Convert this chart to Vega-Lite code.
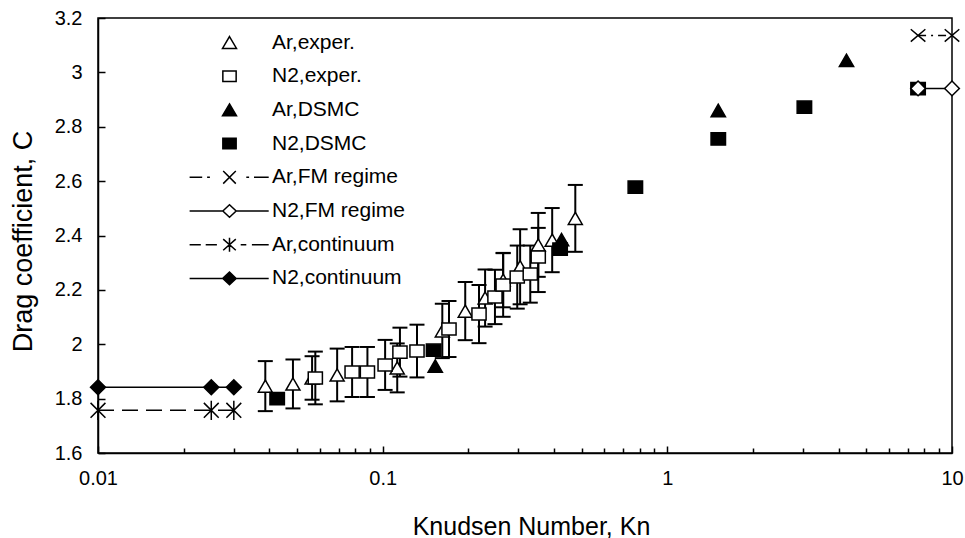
{
  "$schema": "https://vega.github.io/schema/vega-lite/v6.json",
  "width": 854,
  "height": 435,
  "autosize": "none",
  "padding": {"left": 98, "top": 18, "right": 13, "bottom": 85},
  "background": "white",
  "config": {
    "view": {"stroke": "black", "strokeWidth": 1.5},
    "font": "Liberation Sans"
  },
  "datasets": {
    "pts": [
      {"s": "Ar,exper.", "kn": 0.0387, "cd": 1.846, "lo": 1.754, "hi": 1.938},
      {"s": "Ar,exper.", "kn": 0.0484, "cd": 1.854, "lo": 1.764, "hi": 1.944},
      {"s": "Ar,exper.", "kn": 0.0565, "cd": 1.876, "lo": 1.796, "hi": 1.956},
      {"s": "Ar,exper.", "kn": 0.0692, "cd": 1.887, "lo": 1.79, "hi": 1.984},
      {"s": "Ar,exper.", "kn": 0.1125, "cd": 1.913, "lo": 1.823, "hi": 2.003},
      {"s": "Ar,exper.", "kn": 0.162, "cd": 2.049, "lo": 1.949, "hi": 2.149},
      {"s": "Ar,exper.", "kn": 0.195, "cd": 2.122, "lo": 2.015, "hi": 2.229},
      {"s": "Ar,exper.", "kn": 0.229, "cd": 2.17, "lo": 2.065, "hi": 2.275},
      {"s": "Ar,exper.", "kn": 0.265, "cd": 2.236, "lo": 2.136, "hi": 2.336},
      {"s": "Ar,exper.", "kn": 0.304, "cd": 2.285, "lo": 2.147, "hi": 2.423},
      {"s": "Ar,exper.", "kn": 0.352, "cd": 2.365, "lo": 2.248, "hi": 2.483},
      {"s": "Ar,exper.", "kn": 0.394, "cd": 2.383, "lo": 2.265, "hi": 2.501},
      {"s": "Ar,exper.", "kn": 0.475, "cd": 2.463, "lo": 2.34, "hi": 2.586},
      {"s": "N2,exper.", "kn": 0.058, "cd": 1.876, "lo": 1.779, "hi": 1.973},
      {"s": "N2,exper.", "kn": 0.0781, "cd": 1.898, "lo": 1.806, "hi": 1.99},
      {"s": "N2,exper.", "kn": 0.0884, "cd": 1.898, "lo": 1.806, "hi": 1.99},
      {"s": "N2,exper.", "kn": 0.102, "cd": 1.924, "lo": 1.832, "hi": 2.016},
      {"s": "N2,exper.", "kn": 0.115, "cd": 1.971, "lo": 1.881, "hi": 2.061},
      {"s": "N2,exper.", "kn": 0.132, "cd": 1.975, "lo": 1.878, "hi": 2.072},
      {"s": "N2,exper.", "kn": 0.171, "cd": 2.056, "lo": 1.953, "hi": 2.159},
      {"s": "N2,exper.", "kn": 0.218, "cd": 2.111, "lo": 2.004, "hi": 2.218},
      {"s": "N2,exper.", "kn": 0.248, "cd": 2.174, "lo": 2.074, "hi": 2.274},
      {"s": "N2,exper.", "kn": 0.265, "cd": 2.218, "lo": 2.101, "hi": 2.335},
      {"s": "N2,exper.", "kn": 0.297, "cd": 2.247, "lo": 2.131, "hi": 2.363},
      {"s": "N2,exper.", "kn": 0.33, "cd": 2.258, "lo": 2.153, "hi": 2.363},
      {"s": "N2,exper.", "kn": 0.352, "cd": 2.321, "lo": 2.192, "hi": 2.428},
      {"s": "Ar,DSMC", "kn": 0.153, "cd": 1.92},
      {"s": "Ar,DSMC", "kn": 0.425, "cd": 2.385},
      {"s": "Ar,DSMC", "kn": 1.51, "cd": 2.86},
      {"s": "Ar,DSMC", "kn": 4.26, "cd": 3.044},
      {"s": "N2,DSMC", "kn": 0.0426, "cd": 1.8},
      {"s": "N2,DSMC", "kn": 0.151, "cd": 1.978},
      {"s": "N2,DSMC", "kn": 0.42, "cd": 2.35},
      {"s": "N2,DSMC", "kn": 0.772, "cd": 2.578},
      {"s": "N2,DSMC", "kn": 1.51, "cd": 2.755},
      {"s": "N2,DSMC", "kn": 3.03, "cd": 2.872},
      {"s": "N2,DSMC", "kn": 7.6, "cd": 2.94},
      {"s": "Ar,FM regime", "kn": 7.6, "cd": 3.136},
      {"s": "Ar,FM regime", "kn": 10, "cd": 3.136},
      {"s": "N2,FM regime", "kn": 7.6, "cd": 2.941},
      {"s": "N2,FM regime", "kn": 10, "cd": 2.941},
      {"s": "Ar,continuum", "kn": 0.01, "cd": 1.757},
      {"s": "Ar,continuum", "kn": 0.025, "cd": 1.757},
      {"s": "Ar,continuum", "kn": 0.03, "cd": 1.757},
      {"s": "N2,continuum", "kn": 0.01, "cd": 1.842},
      {"s": "N2,continuum", "kn": 0.025, "cd": 1.842},
      {"s": "N2,continuum", "kn": 0.03, "cd": 1.842}
    ]
  },
  "layer": [
    {
      "data": {"name": "pts"},
      "transform": [{"filter": "indexof(['Ar,FM regime','N2,FM regime','Ar,continuum','N2,continuum'], datum.s) >= 0"}],
      "mark": {"type": "line", "color": "black", "strokeWidth": 1.5},
      "encoding": {
        "x": {
          "field": "kn", "type": "quantitative",
          "scale": {"type": "log", "domain": [0.01, 10], "nice": false},
          "axis": {
            "title": "Knudsen Number, Kn",
            "titleFontSize": 25, "titleFontWeight": "normal", "titleColor": "black",
            "titleX": 433, "titleY": 73, "titleBaseline": "middle", "titleAlign": "center",
            "values": [0.01,0.02,0.03,0.04,0.05,0.06,0.07,0.08,0.09,0.1,0.2,0.3,0.4,0.5,0.6,0.7,0.8,0.9,1,2,3,4,5,6,7,8,9,10],
            "labelExpr": "abs(log(datum.value)/LN10 - round(log(datum.value)/LN10)) < 0.001 ? format(datum.value, '~g') : ''",
            "labelFontSize": 20, "labelColor": "black", "labelOverlap": false, "labelFlush": false, "labelPadding": 22,
            "tickSize": {"condition": {"test": "abs(log(datum.value)/LN10 - round(log(datum.value)/LN10)) < 0.001", "value": -7}, "value": -5},
            "tickColor": "black", "tickWidth": 1.5, "domainColor": "black", "domainWidth": 1.5, "grid": false
          }
        },
        "y": {
          "field": "cd", "type": "quantitative",
          "scale": {"domain": [1.6, 3.2], "nice": false, "zero": false},
          "axis": {
            "title": "Drag coefficient, C",
            "titleFontSize": 27, "titleFontWeight": "normal", "titleColor": "black",
            "titleX": -75, "titleY": 223, "titleAngle": -90, "titleBaseline": "middle", "titleAlign": "center",
            "values": [1.6,1.7,1.8,1.9,2,2.1,2.2,2.3,2.4,2.5,2.6,2.7,2.8,2.9,3,3.1,3.2],
            "labelExpr": "abs(datum.value*5 - round(datum.value*5)) < 0.001 ? format(datum.value, '~g') : ''",
            "labelFontSize": 20, "labelColor": "black", "labelOverlap": false, "labelFlush": false, "labelPadding": 23,
            "tickSize": {"condition": {"test": "abs(datum.value*5 - round(datum.value*5)) < 0.001", "value": -7}, "value": -4},
            "tickColor": "black", "tickWidth": 1.5, "domainColor": "black", "domainWidth": 1.5, "grid": false
          }
        },
        "detail": {"field": "s"},
        "strokeDash": {
          "field": "s", "type": "nominal", "legend": null,
          "scale": {"domain": ["Ar,FM regime", "N2,FM regime", "Ar,continuum", "N2,continuum"], "range": [[8, 5, 2, 5], [1, 0], [16, 8], [1, 0]]}
        }
      }
    },
    {
      "data": {"name": "pts"},
      "transform": [{"filter": "isValid(datum.lo)"}],
      "mark": {"type": "rule", "color": "black", "strokeWidth": 2},
      "encoding": {
        "x": {"field": "kn", "type": "quantitative"},
        "y": {"field": "lo", "type": "quantitative"},
        "y2": {"field": "hi"}
      }
    },
    {
      "data": {"name": "pts"},
      "transform": [{"filter": "isValid(datum.lo)"}],
      "mark": {"type": "tick", "orient": "horizontal", "color": "black", "size": 15, "thickness": 2, "opacity": 1},
      "encoding": {
        "x": {"field": "kn", "type": "quantitative"},
        "y": {"field": "lo", "type": "quantitative"}
      }
    },
    {
      "data": {"name": "pts"},
      "transform": [{"filter": "isValid(datum.lo)"}],
      "mark": {"type": "tick", "orient": "horizontal", "color": "black", "size": 15, "thickness": 2, "opacity": 1},
      "encoding": {
        "x": {"field": "kn", "type": "quantitative"},
        "y": {"field": "hi", "type": "quantitative"}
      }
    },
    {
      "data": {"name": "pts"},
      "mark": {"type": "point", "stroke": "black", "strokeWidth": 1.5, "opacity": 1},
      "encoding": {
        "x": {"field": "kn", "type": "quantitative"},
        "y": {"field": "cd", "type": "quantitative"},
        "shape": {
          "field": "s", "type": "nominal", "legend": null,
          "scale": {
            "domain": ["Ar,exper.", "N2,exper.", "Ar,DSMC", "N2,DSMC", "Ar,FM regime", "N2,FM regime", "Ar,continuum", "N2,continuum"],
            "range": ["triangle-up", "M-1,-0.85H1V0.85H-1Z", "triangle-up", "M-1,-0.85H1V0.85H-1Z", "M-1,-0.85L1,0.85M-1,0.85L1,-0.85", "diamond", "M-1,-1L1,1M-1,1L1,-1M0,-1.3V1.3", "diamond"]
          }
        },
        "fill": {
          "field": "s", "type": "nominal", "legend": null,
          "scale": {
            "domain": ["Ar,exper.", "N2,exper.", "Ar,DSMC", "N2,DSMC", "Ar,FM regime", "N2,FM regime", "Ar,continuum", "N2,continuum"],
            "range": ["white", "white", "black", "black", "white", "white", "white", "black"]
          }
        },
        "size": {
          "field": "s", "type": "nominal", "legend": null,
          "scale": {
            "domain": ["Ar,exper.", "N2,exper.", "Ar,DSMC", "N2,DSMC", "Ar,FM regime", "N2,FM regime", "Ar,continuum", "N2,continuum"],
            "range": [196, 225, 300, 289, 324, 289, 225, 256]
          }
        }
      }
    },
    {
      "data": {"values": []},
      "mark": {"type": "point", "stroke": "black", "strokeWidth": 1.5, "opacity": 1},
      "encoding": {
        "shape": {
          "field": "s", "type": "nominal",
          "scale": {
            "domain": ["Ar,exper.", "N2,exper.", "Ar,DSMC", "N2,DSMC", "Ar,FM regime", "N2,FM regime", "Ar,continuum", "N2,continuum"],
            "range": [
              "M0,-0.85L1,0.85L-1,0.85Z",
              "M-0.95,-0.75H0.95V0.75H-0.95Z",
              "M0,-0.85L1,0.85L-1,0.85Z",
              "M-0.95,-0.75H0.95V0.75H-0.95Z",
              "M-5.7,0H-3.9M-3.2,0H-2.8M-0.9,-0.9L0.9,0.9M-0.9,0.9L0.9,-0.9M2.4,0H2.8M3.5,0H5.6",
              "M-5.7,0H-0.95M-0.95,0L0,-0.9L0.95,0L0,0.9ZM0.95,0H5.6",
              "M-5.7,0H-4.1M-3.4,0H-1.8M-0.9,-0.8L0.9,0.8M-0.9,0.8L0.9,-0.8M0,-1V1M1.6,0H2.4M3.2,0H5.6",
              "M-5.7,0H-0.95M-0.95,0L0,-0.9L0.95,0L0,0.9ZM0.95,0H5.6"
            ]
          },
          "legend": {
            "orient": "none", "legendX": 121, "legendY": 14, "title": null, "padding": 0,
            "labelFontSize": 21, "labelColor": "black", "labelFont": "Liberation Sans", "labelLimit": 0,
            "symbolSize": 196, "symbolStrokeWidth": 1.5, "symbolStrokeColor": "black", "symbolOpacity": 1,
            "labelOffset": 32, "rowPadding": 11.7,
            "encode": {"symbols": {"update": {"stroke": {"value": "black"}, "strokeWidth": {"value": 1.5}, "opacity": {"value": 1}}}}
          }
        },
        "fill": {
          "field": "s", "type": "nominal",
          "scale": {
            "domain": ["Ar,exper.", "N2,exper.", "Ar,DSMC", "N2,DSMC", "Ar,FM regime", "N2,FM regime", "Ar,continuum", "N2,continuum"],
            "range": ["white", "white", "black", "black", "white", "white", "white", "black"]
          },
          "legend": {
            "orient": "none", "legendX": 121, "legendY": 14, "title": null, "padding": 0,
            "labelFontSize": 21, "labelColor": "black", "labelFont": "Liberation Sans", "labelLimit": 0,
            "symbolSize": 196, "symbolStrokeWidth": 1.5, "symbolStrokeColor": "black", "symbolOpacity": 1,
            "labelOffset": 32, "rowPadding": 11.7,
            "encode": {"symbols": {"update": {"stroke": {"value": "black"}, "strokeWidth": {"value": 1.5}, "opacity": {"value": 1}}}}
          }
        }
      }
    }
  ],
  "resolve": {"scale": {"shape": "independent", "fill": "independent", "size": "independent"}}
}
